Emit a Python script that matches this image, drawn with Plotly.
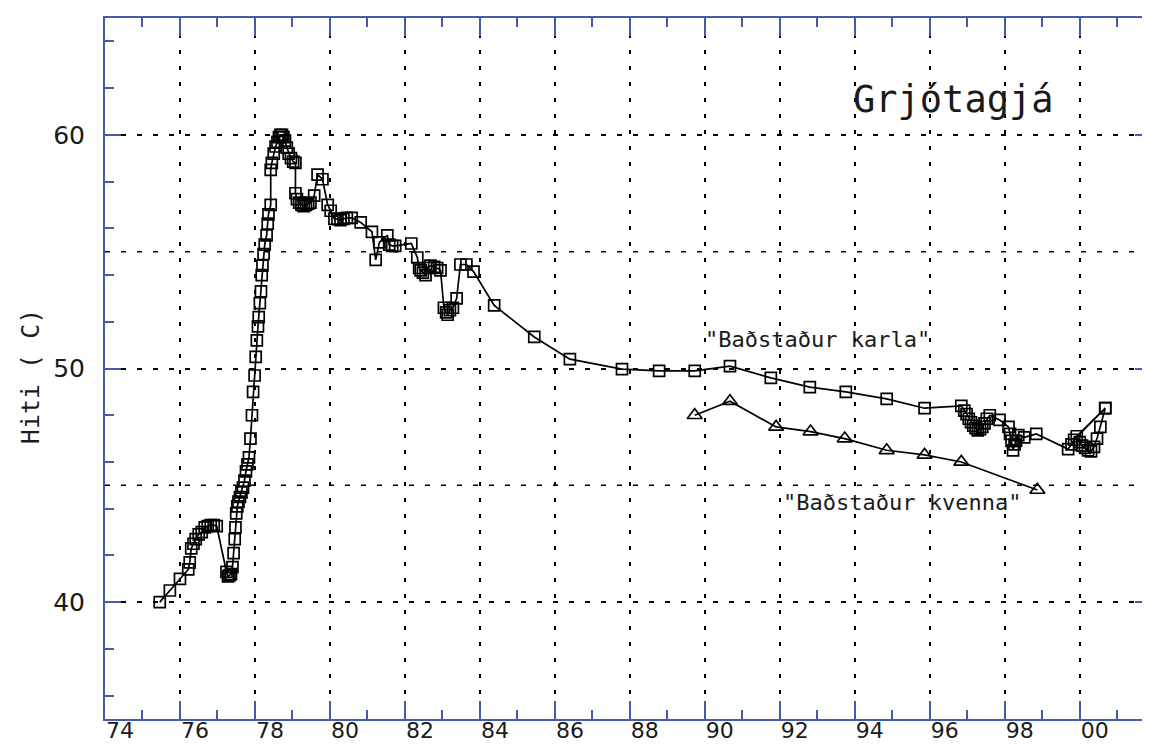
import plotly.graph_objects as go

# "Baðstaður karla" (squares)
karla_year = [
    75.46, 75.73, 76.0, 76.22, 76.26, 76.3, 76.36, 76.42, 76.5, 76.58, 76.66, 76.74, 76.82, 76.9, 76.98,
    77.24, 77.28, 77.32, 77.36, 77.4, 77.43, 77.46, 77.48, 77.5, 77.53, 77.56, 77.6, 77.64, 77.68, 77.72,
    77.76, 77.8, 77.84, 77.88, 77.92, 77.95, 77.99, 78.02, 78.05, 78.08, 78.1, 78.13, 78.16, 78.18, 78.2,
    78.23, 78.26, 78.31, 78.34, 78.36, 78.42, 78.42, 78.45, 78.5, 78.55, 78.6, 78.64, 78.68, 78.72, 78.76,
    78.8, 78.85, 78.9, 78.96, 79.02, 79.08, 79.08, 79.12, 79.18, 79.24, 79.3, 79.36, 79.42, 79.48, 79.58,
    79.67, 79.8, 79.94, 80.02, 80.12, 80.2, 80.28, 80.36, 80.45, 80.58, 80.82, 81.12, 81.22, 81.32, 81.53,
    81.58, 81.66, 81.74, 82.17, 82.33, 82.38, 82.42, 82.48, 82.55, 82.62, 82.68, 82.78, 82.86, 82.95, 83.04,
    83.1, 83.14, 83.2, 83.28, 83.38, 83.48, 83.64, 83.83, 84.38, 85.45, 86.4, 87.79, 88.78, 89.73, 90.67,
    91.76, 92.8, 93.76, 94.85, 95.86, 96.84, 96.92, 96.98, 97.04, 97.1, 97.16, 97.22, 97.28, 97.34, 97.4,
    97.46, 97.52, 97.6, 97.86, 98.1, 98.14, 98.18, 98.22, 98.26, 98.3, 98.36, 98.52, 98.84, 99.69, 99.78,
    99.85, 100.68, 99.92, 100.0, 100.06, 100.14, 100.22, 100.3, 100.38, 100.46, 100.55, 100.68,
]
karla_temp = [
    40.0, 40.5, 41.0, 41.4, 41.7, 42.3, 42.5, 42.7, 42.9, 43.0, 43.2, 43.25, 43.3, 43.3, 43.25,
    41.3, 41.1, 41.15, 41.2, 41.5, 42.1, 42.7, 43.2, 43.8, 44.1, 44.3, 44.5, 44.7, 44.9, 45.2,
    45.6, 45.9, 46.2, 47.0, 48.0, 49.0, 49.7, 50.5, 51.2, 51.8, 52.2, 52.8, 53.3, 54.0, 54.4,
    54.9, 55.3, 55.7, 56.2, 56.6, 57.0, 58.5, 58.8, 59.2, 59.5, 59.7, 59.9, 60.0, 60.0, 59.9,
    59.75, 59.45, 59.2, 59.0, 58.85, 58.8, 57.5, 57.25, 57.1, 57.0, 56.95, 57.0, 57.05, 57.1, 57.4,
    58.3, 58.1, 57.0, 56.75, 56.4, 56.4, 56.35, 56.4, 56.45, 56.45, 56.25, 55.85, 54.65, 55.4, 55.7,
    55.3, 55.25, 55.25, 55.35, 54.75, 54.3, 54.2, 54.1, 54.0, 54.3, 54.4, 54.35, 54.3, 54.2, 52.6,
    52.4, 52.3, 52.5, 52.6, 53.0, 54.45, 54.45, 54.15, 52.7, 51.35, 50.4, 49.97, 49.9, 49.9, 50.1,
    49.6, 49.2, 49.0, 48.7, 48.3, 48.4, 48.2, 48.05, 47.85, 47.7, 47.55, 47.45, 47.35, 47.4, 47.5,
    47.65, 47.85, 48.0, 47.8, 47.5, 47.2, 46.9, 46.5, 46.75, 46.9, 47.15, 47.05, 47.2, 46.55, 46.75,
    46.95, 48.3, 47.1, 46.85, 46.7, 46.6, 46.5, 46.45, 46.65, 47.0, 47.5, 48.3,
]

# "Baðstaður kvenna" (triangles)
kvenna_year = [89.73, 90.67, 91.9, 92.82, 93.73, 94.85, 95.86, 96.84, 98.87]
kvenna_temp = [48.0, 48.6, 47.5, 47.3, 47.0, 46.5, 46.3, 46.0, 44.8]

x_tickvals = list(range(74, 101, 2))
x_ticktext = ["74", "76", "78", "80", "82", "84", "86", "88", "90", "92", "94", "96", "98", "00"]
y_tickvals = [40, 50, 60]
y_minor_vals = list(range(36, 65, 2))
y_extra_grid = [45, 55]

AXIS_BLUE = "rgb(70,92,170)"
MONO = "DejaVu Sans Mono"
SANS = "DejaVu Sans"
TXT = "#1a1a1a"

ML, MR, MT, MB = 97, 5, 10, 34
W, H = 1150, 745
PW, PH = W - ML - MR, H - MT - MB


def px_to_paper(px, py):
    return (px - ML) / PW, (H - MB - py) / PH


fig = go.Figure()
fig.add_trace(go.Scatter(
    x=karla_year, y=karla_temp, mode="lines+markers",
    line=dict(color="black", width=1.7),
    marker=dict(symbol="square-open", size=11, color="black", line=dict(width=1.7)),
    showlegend=False, hoverinfo="x+y",
))
fig.add_trace(go.Scatter(
    x=kvenna_year, y=kvenna_temp, mode="lines+markers",
    line=dict(color="black", width=1.7),
    marker=dict(symbol="triangle-up-open", size=13, color="black", line=dict(width=1.7)),
    showlegend=False, hoverinfo="x+y",
))

for v in y_extra_grid:
    fig.add_shape(type="line", xref="paper", x0=0, x1=1, yref="y", y0=v, y1=v,
                  line=dict(color="black", width=1.5, dash="5px,11px"), layer="below")

tx, ty = px_to_paper(947, 91)
hx, hy = px_to_paper(22, 369)

fig.update_layout(
    width=W, height=H,
    margin=dict(l=ML, r=MR, t=MT, b=MB),
    paper_bgcolor="white", plot_bgcolor="white",
    font=dict(family=SANS, color=TXT),
    xaxis=dict(
        range=[74, 101.9], tickvals=x_tickvals, ticktext=x_ticktext,
        ticks="inside", ticklen=18, tickwidth=1.5, tickcolor=AXIS_BLUE,
        showline=True, linecolor=AXIS_BLUE, linewidth=2, mirror="allticks",
        showgrid=True, gridcolor="black", gridwidth=1.5, griddash="4px,12px",
        zeroline=False, tickfont=dict(family=SANS, size=22, color=TXT),
        ticklabelshift=15, ticklabelstandoff=-9,
        minor=dict(dtick=1, tick0=74, ticks="inside", ticklen=9, tickwidth=1.5,
                   tickcolor=AXIS_BLUE, showgrid=False),
    ),
    yaxis=dict(
        range=[35, 65], tickvals=y_tickvals,
        ticks="inside", ticklen=16, tickwidth=1.5, tickcolor=AXIS_BLUE,
        showline=True, linecolor=AXIS_BLUE, linewidth=2, mirror="allticks",
        showgrid=True, gridcolor="black", gridwidth=1.5, griddash="5px,11px",
        zeroline=False, tickfont=dict(family=SANS, size=25, color=TXT),
        ticklabelstandoff=13,
        minor=dict(tickvals=y_minor_vals, ticks="inside", ticklen=9, tickwidth=1.5,
                   tickcolor=AXIS_BLUE, showgrid=False),
    ),
    annotations=[
        dict(text="Grjótagjá", x=tx, y=ty, xref="paper", yref="paper",
             xanchor="center", yanchor="middle",
             showarrow=False, font=dict(family=MONO, size=37, color=TXT)),
        dict(text="Hiti ( C)", x=hx, y=hy, xref="paper", yref="paper", showarrow=False,
             xanchor="center", yanchor="middle",
             textangle=-90, font=dict(family=MONO, size=25, color=TXT)),
        dict(text='"Baðstaður karla"', x=93.0, y=51.25, xref="x", yref="y", showarrow=False,
             xanchor="center", yanchor="middle",
             font=dict(family=MONO, size=22, color=TXT)),
        dict(text='"Baðstaður kvenna"', x=95.25, y=44.27, xref="x", yref="y", showarrow=False,
             xanchor="center", yanchor="middle",
             font=dict(family=MONO, size=22, color=TXT)),
    ],
)

fig.write_html("out.html")
